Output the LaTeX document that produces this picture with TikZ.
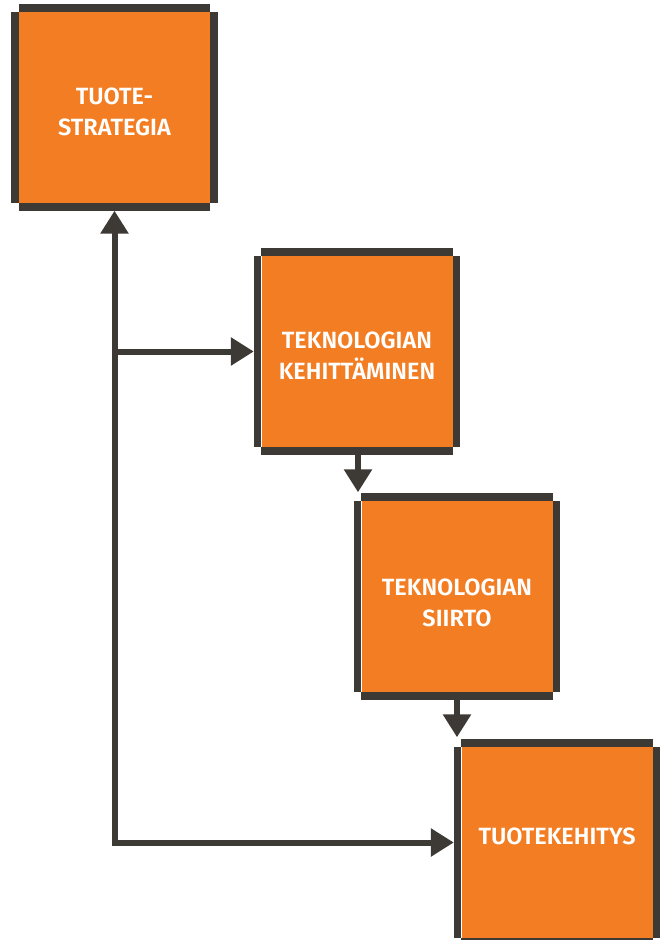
\documentclass[tikz,border=0pt]{standalone}
\usepackage{fontspec}
\setmainfont{Fira Sans}[BoldFont={Fira Sans SemiBold}]
\usetikzlibrary{arrows.meta}
\definecolor{boxorange}{HTML}{F37D22}
\definecolor{bardark}{HTML}{3D3935}
\tikzset{
  phase/.style={fill=boxorange, minimum width=191pt, minimum height=191pt, inner sep=0pt},
  phasetext/.style={text=white, align=center, inner sep=0pt,
    font=\bfseries\fontsize{23.5}{31}\selectfont},
  flow/.style={draw=bardark, line width=6pt, line join=miter,
    -{Triangle[width=27pt,length=23pt]}},
  bar/.style={fill=bardark}
}
\begin{document}
\begin{tikzpicture}[x=1pt,y=-1pt]
  \useasboundingbox (0,0) rectangle (662,940);

  % phase boxes
  \node[phase] (strat)  at (114.5,107.5) {};
  \node[phase] (tekn)   at (357,351.5)   {};
  \node[phase] (siirto) at (457,596.5)   {};
  \node[phase] (kehit)  at (557,842.5)   {};

  % box captions
  \node[phasetext] (strat-t)  at ([yshift=-4pt]strat.center)  {TUOTE-\\STRATEGIA};
  \node[phasetext] (tekn-t)   at ([yshift=-4pt]tekn.center)   {TEKNOLOGIAN\\KEHITTÄMINEN};
  \node[phasetext] (siirto-t) at ([yshift=-6pt]siirto.center) {TEKNOLOGIAN\\SIIRTO};
  \node[phasetext] (kehit-t)  at ([yshift=6pt]kehit.center)   {TUOTEKEHITYS};

  % offset frame bars on each side of the boxes
  \foreach \n in {strat,tekn,siirto,kehit}{
    \fill[bar] (\n.north west) rectangle ([yshift=7.5pt]\n.north east);
    \fill[bar] (\n.south west) rectangle ([yshift=-7.5pt]\n.south east);
    \fill[bar] ([xshift=-7.5pt]\n.south west) rectangle (\n.north west);
    \fill[bar] (\n.south east) rectangle ([xshift=7.5pt]\n.north east);
  }

  % feedback loop from product development back to strategy
  \coordinate (corner) at (strat.south |- kehit.west);
  \coordinate (branch) at (strat.south |- tekn.west);
  \draw[flow, {Triangle[width=27pt,length=23pt]}-{Triangle[width=27pt,length=23pt]}]
    ([yshift=-7.5pt]strat.south) -- (corner) -- ([xshift=-7.5pt]kehit.west);
  \draw[flow] (branch) -- ([xshift=-7.5pt]tekn.west);

  % sequential steps
  \coordinate (tekn-in)   at ([xshift=1pt]tekn.south |- siirto.north);
  \coordinate (siirto-in) at (siirto.south |- kehit.north);
  \draw[flow] ([xshift=1pt,yshift=-7.5pt]tekn.south) -- ([yshift=8.5pt]tekn-in);
  \draw[flow] ([yshift=-7.5pt]siirto.south) -- ([yshift=9.5pt]siirto-in);
\end{tikzpicture}
\end{document}
